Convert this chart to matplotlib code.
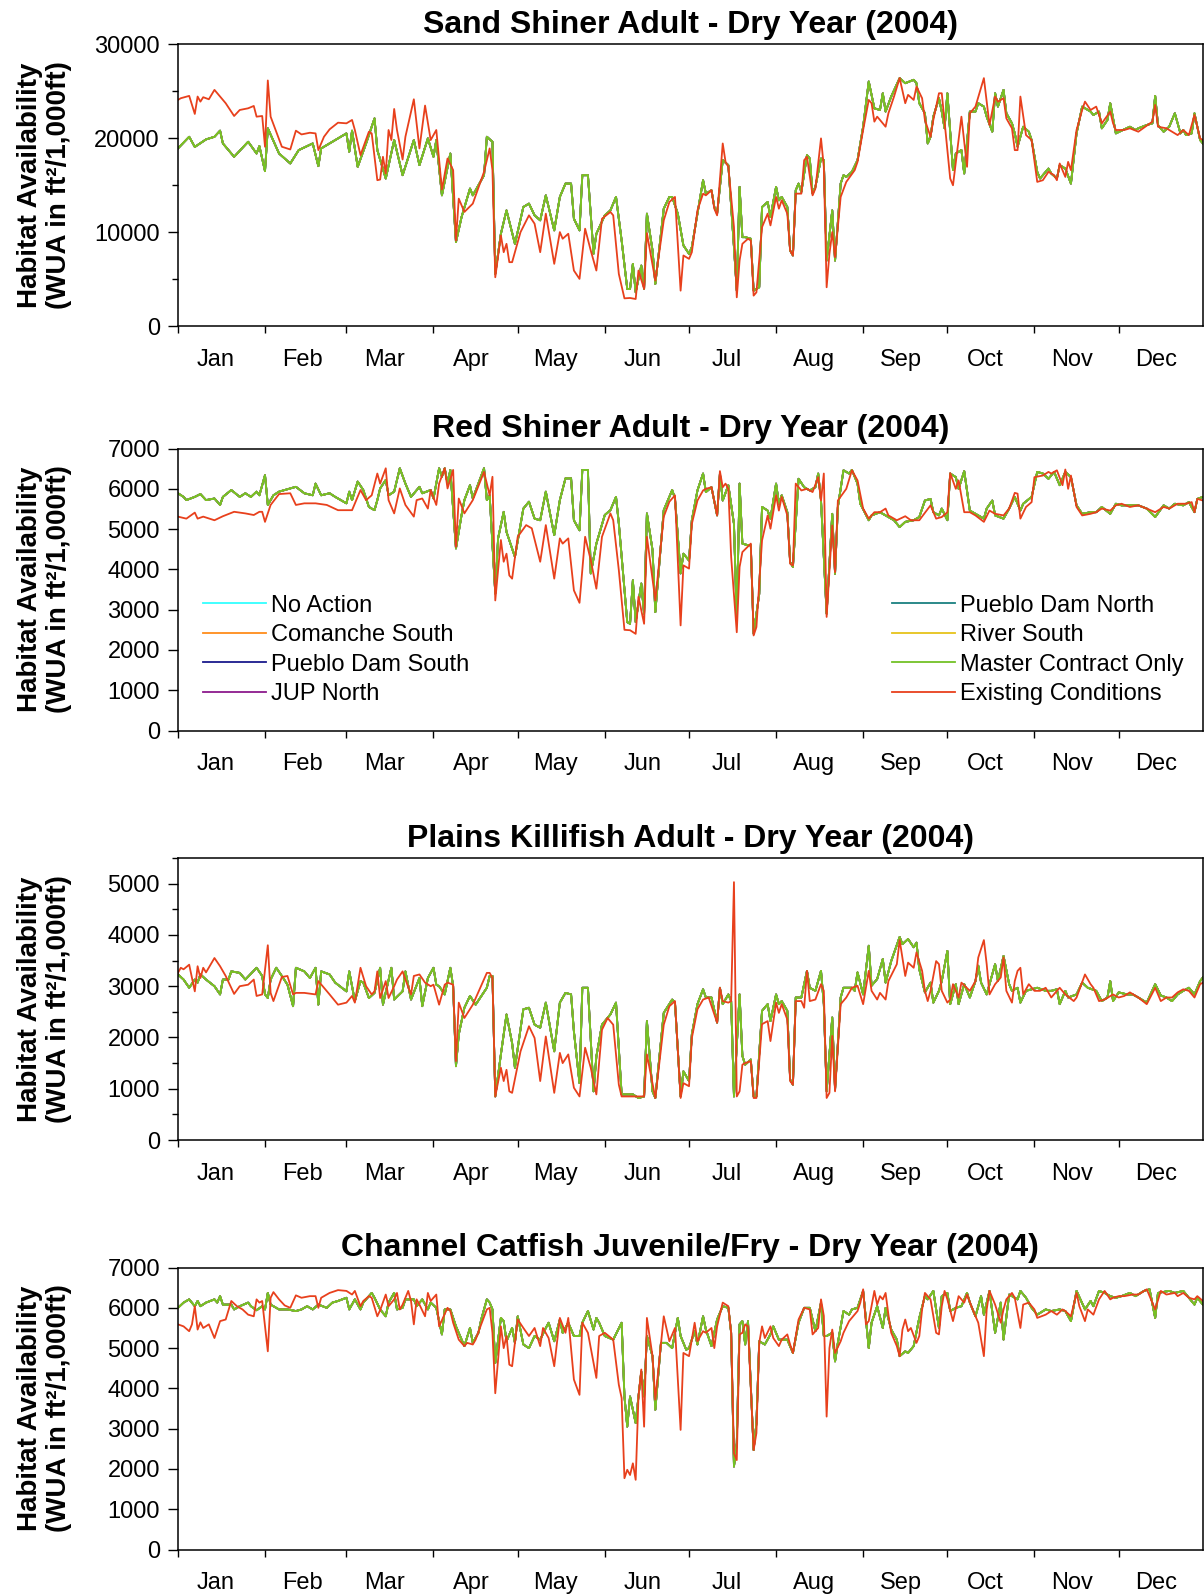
import numpy as np
import matplotlib.pyplot as plt
from matplotlib.ticker import MultipleLocator, FixedLocator, NullFormatter

plt.rcParams['font.family'] = ['Liberation Sans', 'DejaVu Sans']

# month boundaries for 2004 (leap year), day of year starting at 0
months = ['Jan', 'Feb', 'Mar', 'Apr', 'May', 'Jun', 'Jul', 'Aug', 'Sep', 'Oct', 'Nov', 'Dec']
month_start = [0, 31, 60, 91, 121, 152, 182, 213, 244, 274, 305, 335]

alternatives = ['No Action', 'Comanche South', 'Pueblo Dam South', 'JUP North',
                'Pueblo Dam North', 'River South', 'Master Contract Only']
alt_colors = ['#33ffff', '#ff8c1a', '#1a1a8c', '#8c1a8c', '#1a8080', '#e6c31a', '#73c226']
exist_label = 'Existing Conditions'
exist_color = '#e8401c'

# (day, WUA) - project alternatives track almost together
sand_proj = [(0, 18940), (4, 20180), (6, 19100), (10, 19900), (13, 20180), (15, 20830), (16, 19470), (20, 18050),
    (25, 19650), (28, 18400), (29, 19190), (31, 16520), (32, 21080), (36, 18400), (40, 17340), (43, 18760),
    (48, 19470), (50, 17050), (51, 18940), (56, 19830), (60, 20540), (61, 18580), (62, 20830), (64, 16980),
    (67, 19470), (70, 22140), (71, 18760), (74, 15740), (77, 19830), (80, 16090), (84, 19830), (86, 17160),
    (89, 20010), (91, 18050), (92, 19830), (94, 13950), (97, 18400), (99, 8970), (101, 11640), (104, 14670),
    (105, 13950), (109, 16090), (110, 20180), (112, 19650), (113, 5590), (115, 9860), (117, 12350), (120, 8790),
    (123, 12710), (125, 13070), (127, 11820), (129, 11290), (131, 13950), (134, 10220), (136, 13780), (138, 15200),
    (140, 15200), (141, 11460), (143, 10220), (144, 16090), (146, 16090), (148, 7730), (149, 9860), (152, 11820),
    (154, 12350), (156, 13780), (158, 9150), (160, 3990), (161, 3990), (162, 6660), (163, 3630), (165, 6480),
    (166, 3990), (167, 12000), (169, 8080), (170, 4520), (173, 12530), (175, 13780), (176, 13780), (178, 12000),
    (180, 8620), (182, 7730), (183, 8440), (187, 15560), (188, 14130), (190, 14490), (191, 12710), (192, 12000),
    (194, 17690), (196, 17160), (198, 8440), (199, 3810), (200, 14850), (201, 9500), (202, 9500), (204, 9330),
    (205, 3810), (207, 4170), (208, 12710), (210, 13240), (211, 11640), (213, 14850), (214, 13420), (215, 13780),
    (217, 12710), (218, 8080), (219, 7550), (220, 14490), (221, 15200), (222, 14310), (224, 18230), (225, 17870),
    (226, 14130), (227, 14850), (229, 17870), (230, 17690), (231, 7010), (233, 12350), (234, 7010), (236, 15200),
    (237, 16090), (238, 15910), (240, 16450), (242, 17690), (244, 21250), (246, 26060), (248, 23210), (250, 23030),
    (251, 24810), (252, 22860), (254, 24460), (257, 26420), (259, 25880), (262, 26240), (263, 25880), (264, 23750),
    (266, 22680), (267, 19470), (268, 20180), (269, 22320), (271, 24280), (272, 22860), (273, 21080), (274, 24810),
    (276, 16630), (277, 18400), (279, 18760), (280, 16270), (282, 22860), (284, 22860), (285, 23750), (287, 23390),
    (288, 22320), (290, 20720), (291, 24810), (292, 23390), (294, 25170), (295, 22680), (297, 21610), (298, 20540),
    (299, 19120), (301, 21250), (303, 20720), (304, 19830), (306, 16450), (307, 15740), (310, 16800), (311, 16270),
    (313, 15740), (314, 17160), (316, 16800), (318, 15200), (320, 20540), (322, 23390), (325, 22860), (326, 22500),
    (328, 22860), (329, 21080), (331, 21970), (332, 23750), (334, 20540), (336, 20830), (339, 21250), (341, 20900),
    (342, 21080), (345, 21430), (347, 21610), (348, 24530), (349, 21430), (351, 20720), (353, 21250), (355, 22680),
    (357, 20540), (358, 20900), (359, 20360), (361, 20540), (362, 22680), (364, 19830), (365, 19470)]

sand_exist = [(0, 24100), (1, 24280), (4, 24530), (6, 22610), (7, 24460), (8, 23920), (9, 24390), (11, 24170),
    (13, 25170), (15, 24460), (17, 23750), (20, 22390), (22, 23030), (25, 23210), (27, 23460), (28, 22320),
    (30, 22390), (31, 19120), (32, 26170), (33, 22320), (35, 20720), (37, 19120), (40, 18830), (42, 20830),
    (44, 20430), (47, 20610), (49, 20540), (50, 18760), (52, 20180), (54, 20970), (57, 21680), (60, 21610),
    (62, 21970), (63, 20900), (65, 18230), (68, 20720), (69, 20540), (71, 15560), (72, 15630), (73, 18050),
    (74, 16270), (75, 20900), (76, 19830), (77, 23140), (78, 20900), (80, 17760), (81, 20180), (84, 24170),
    (86, 18940), (88, 23500), (90, 19830), (92, 20900), (94, 14560), (96, 17870), (98, 16630), (99, 9150),
    (100, 13600), (102, 12180), (105, 13070), (109, 16450), (111, 18940), (112, 16630), (113, 5230), (115, 9680),
    (116, 7900), (117, 8790), (118, 6840), (119, 6840), (122, 10040), (125, 11820), (127, 10930), (129, 7900),
    (131, 12000), (134, 6660), (136, 10040), (137, 9330), (139, 9860), (141, 5950), (143, 5060), (145, 10400),
    (147, 8080), (149, 5950), (151, 11460), (154, 12180), (155, 11820), (157, 5590), (159, 2990), (161, 3030),
    (163, 2920), (164, 5950), (166, 3990), (167, 9930), (170, 4880), (173, 11290), (175, 13240), (177, 13780),
    (179, 3810), (180, 7550), (182, 7190), (183, 7900), (185, 12350), (187, 14130), (188, 13950), (190, 14490),
    (191, 12530), (192, 11820), (194, 19470), (195, 17510), (196, 16980), (198, 10570), (199, 3100), (200, 7010),
    (201, 8790), (203, 9330), (204, 9150), (205, 3280), (206, 3630), (208, 10570), (210, 12000), (211, 10750),
    (213, 13780), (214, 12530), (215, 13420), (217, 12000), (218, 8080), (219, 7550), (220, 14130), (222, 14130),
    (223, 17690), (224, 18050), (226, 13950), (227, 14670), (229, 20010), (230, 16980), (231, 4170), (232, 7730),
    (233, 10040), (234, 7370), (236, 13780), (238, 15380), (241, 16630), (242, 17510), (244, 20900), (246, 24100),
    (247, 23750), (248, 21790), (249, 22320), (250, 21970), (252, 21250), (253, 22680), (255, 24460), (257, 26420),
    (259, 23750), (260, 24640), (262, 24100), (263, 25520), (265, 24280), (266, 21970), (268, 20180), (269, 21970),
    (271, 24810), (272, 24810), (273, 21790), (275, 15740), (276, 15020), (278, 19830), (279, 22320), (281, 16980),
    (282, 22680), (284, 23390), (287, 26420), (289, 21430), (291, 24460), (292, 23920), (294, 24280), (295, 22140),
    (297, 21080), (298, 18760), (299, 18760), (300, 24460), (302, 20360), (304, 19830), (306, 15380), (308, 15560),
    (310, 16450), (312, 16090), (313, 15560), (314, 17340), (316, 15910), (317, 17510), (318, 16630), (320, 20900),
    (322, 23030), (323, 23920), (325, 23030), (327, 23390), (329, 21610), (332, 22860), (333, 21610), (334, 20900),
    (337, 20900), (339, 21080), (342, 20720), (347, 21790), (348, 23570), (349, 21250), (352, 21080), (356, 20360),
    (358, 20900), (360, 20360), (362, 22500), (364, 20010), (365, 19830)]

red_proj = [(0, 5890), (2, 5800), (3, 5720), (6, 5800), (8, 5870), (10, 5720), (13, 5760), (15, 5600), (16, 5800),
    (19, 5970), (22, 5800), (24, 5890), (26, 5800), (28, 5930), (29, 5840), (31, 6340), (32, 5600), (34, 5840),
    (36, 5930), (39, 5990), (42, 6050), (45, 5890), (48, 5840), (49, 6130), (51, 5840), (54, 5890), (56, 5800),
    (60, 5640), (61, 5930), (62, 5720), (64, 6180), (66, 5970), (68, 5550), (70, 5470), (71, 5720), (72, 6010),
    (74, 6220), (75, 5840), (77, 5930), (79, 6510), (81, 6130), (83, 5800), (86, 6050), (87, 5890), (90, 5970),
    (91, 5760), (93, 6510), (94, 6300), (95, 6510), (96, 6130), (97, 6470), (99, 4520), (101, 5350), (102, 5720),
    (104, 6090), (105, 5760), (109, 6510), (110, 5720), (111, 5840), (113, 3400), (114, 4770), (116, 5430),
    (117, 4930), (120, 4310), (123, 5510), (125, 5680), (127, 5260), (129, 5220), (131, 5930), (134, 4850),
    (136, 5720), (138, 6260), (140, 6260), (141, 5220), (143, 4970), (144, 6470), (146, 6470), (147, 3900),
    (149, 4640), (152, 5350), (154, 5470), (156, 5800), (157, 5140), (160, 2690), (161, 2650), (162, 3730),
    (163, 2690), (165, 3650), (166, 2900), (167, 5390), (169, 4480), (170, 2940), (173, 5470), (176, 5970),
    (177, 5760), (179, 3900), (180, 4390), (182, 4220), (183, 5220), (185, 5960), (187, 6380), (188, 5920),
    (190, 6040), (192, 5340), (193, 6380), (194, 5710), (196, 6090), (198, 5130), (199, 2730), (200, 6130),
    (201, 4640), (203, 4600), (204, 4600), (205, 2400), (207, 3390), (208, 5550), (210, 5460), (211, 5260),
    (213, 6130), (214, 5630), (215, 5840), (217, 5420), (218, 4180), (219, 4060), (221, 6250), (223, 6040),
    (225, 5960), (227, 6040), (228, 6380), (229, 5710), (231, 2900), (233, 5380), (234, 3890), (235, 5550),
    (237, 6460), (239, 6380), (240, 6470), (242, 6130), (243, 5630), (246, 5220), (247, 5340), (250, 5420),
    (252, 5340), (255, 5220), (257, 5050), (259, 5180), (262, 5220), (264, 5300), (266, 5710), (268, 5750),
    (269, 5420), (271, 5340), (272, 5510), (274, 5220), (275, 6380), (277, 6290), (278, 6000), (280, 6440),
    (282, 5460), (284, 5380), (287, 5260), (288, 5510), (290, 5710), (291, 5340), (294, 5260), (296, 5510),
    (298, 5800), (300, 5460), (301, 5630), (304, 5800), (306, 6420), (308, 6380), (310, 6250), (312, 6420),
    (314, 6090), (316, 6420), (318, 6290), (320, 5590), (322, 5380), (325, 5420), (327, 5420), (329, 5550),
    (332, 5380), (334, 5630), (336, 5590), (339, 5590), (342, 5590), (345, 5510), (348, 5300), (351, 5590),
    (353, 5510), (355, 5630), (358, 5590), (360, 5670), (362, 5420), (363, 5750), (365, 5800)]

red_exist = [(0, 5310), (3, 5260), (6, 5410), (7, 5260), (9, 5310), (13, 5220), (16, 5320), (20, 5430), (24, 5390),
    (27, 5350), (29, 5430), (30, 5430), (31, 5180), (33, 5600), (36, 5870), (40, 5890), (42, 5600), (45, 5640),
    (49, 5640), (53, 5600), (57, 5470), (62, 5470), (65, 5970), (67, 5720), (69, 5840), (71, 6380), (72, 6130),
    (74, 6510), (75, 5720), (77, 5390), (79, 6010), (81, 5600), (84, 5310), (85, 5720), (87, 5760), (89, 5510),
    (90, 5970), (92, 5600), (93, 6130), (95, 6510), (96, 6010), (98, 6470), (99, 4560), (100, 5760), (102, 5390),
    (105, 5720), (109, 6420), (111, 5840), (112, 6300), (113, 3230), (115, 4730), (116, 4190), (117, 4390),
    (118, 3850), (119, 3770), (121, 4810), (124, 5100), (126, 5020), (129, 4190), (131, 5100), (134, 3770),
    (136, 4770), (137, 4640), (139, 4770), (141, 3480), (143, 3170), (145, 4810), (147, 4230), (149, 3520),
    (151, 4810), (154, 5390), (155, 5220), (157, 3980), (159, 2500), (161, 2490), (163, 2400), (164, 3320),
    (166, 2650), (167, 4810), (170, 3230), (173, 5310), (175, 5680), (177, 5840), (179, 2610), (180, 4100),
    (182, 4020), (183, 5130), (185, 5710), (187, 5960), (188, 6000), (190, 6040), (192, 5340), (193, 6440),
    (194, 6040), (195, 6130), (196, 6000), (197, 4310), (199, 2440), (200, 4060), (201, 4430), (204, 4640),
    (205, 2360), (206, 2570), (208, 4720), (210, 5340), (211, 5010), (213, 5840), (214, 5460), (215, 5800),
    (217, 5340), (218, 4140), (219, 4100), (220, 6130), (222, 5960), (224, 6000), (226, 5920), (228, 6290),
    (229, 5710), (230, 6380), (231, 2820), (233, 5090), (234, 3930), (235, 5710), (238, 6000), (240, 6460),
    (242, 6210), (244, 5510), (246, 5260), (248, 5420), (250, 5420), (252, 5510), (253, 5340), (256, 5220),
    (259, 5320), (261, 5220), (264, 5220), (268, 5590), (270, 5260), (272, 5300), (274, 5420), (275, 6390),
    (277, 6000), (278, 6210), (280, 5420), (282, 5420), (284, 5340), (287, 5180), (289, 5460), (291, 5380),
    (294, 5340), (296, 5510), (298, 5900), (299, 5880), (300, 5260), (302, 5550), (304, 5670), (305, 6290),
    (308, 6330), (310, 6420), (311, 6380), (313, 6460), (315, 6090), (316, 6480), (317, 6000), (318, 6330),
    (320, 5550), (322, 5340), (325, 5380), (327, 5420), (329, 5510), (332, 5460), (334, 5590), (336, 5630),
    (339, 5550), (342, 5590), (345, 5510), (348, 5420), (351, 5550), (353, 5510), (356, 5630), (359, 5630),
    (361, 5670), (362, 5420), (363, 5750), (365, 5710)]

killi_proj = [(0, 3230), (2, 3130), (4, 2970), (6, 3130), (7, 3070), (8, 3230), (10, 3130), (13, 3000), (15, 2840),
    (16, 3130), (18, 3130), (19, 3290), (22, 3260), (24, 3130), (28, 3360), (30, 3200), (31, 2840), (32, 2770),
    (33, 3130), (35, 3360), (37, 3200), (39, 3030), (41, 2610), (42, 3360), (45, 3290), (47, 3160), (49, 3360),
    (50, 2640), (51, 3290), (54, 3230), (56, 3070), (60, 2900), (61, 3290), (63, 2710), (65, 3100), (66, 3070),
    (68, 2770), (70, 2870), (72, 3360), (73, 2640), (76, 3360), (77, 2740), (80, 2900), (81, 3290), (83, 2740),
    (86, 3160), (87, 2610), (89, 3160), (91, 3360), (92, 3030), (93, 3000), (95, 2840), (97, 3360), (98, 3000),
    (99, 1440), (100, 2060), (102, 2580), (104, 2810), (106, 2640), (110, 2970), (111, 3200), (112, 3200),
    (113, 850), (115, 1670), (117, 2450), (119, 1890), (120, 1410), (123, 2550), (125, 2580), (127, 2250),
    (129, 2190), (131, 2680), (134, 1730), (136, 2680), (138, 2870), (140, 2840), (141, 2120), (143, 1110),
    (144, 2970), (146, 2970), (148, 950), (149, 1630), (151, 2250), (154, 2450), (156, 2680), (158, 890),
    (162, 890), (164, 820), (166, 850), (167, 2320), (169, 950), (170, 820), (173, 2480), (176, 2740),
    (177, 2680), (179, 850), (180, 1340), (182, 1150), (183, 2060), (185, 2650), (187, 2940), (188, 2780),
    (190, 2780), (192, 2290), (193, 2970), (194, 2650), (196, 2840), (197, 2710), (198, 850), (200, 2840),
    (201, 1640), (202, 1470), (204, 1570), (205, 850), (206, 850), (208, 2520), (210, 2650), (211, 2320),
    (213, 2840), (214, 2650), (215, 2710), (217, 2520), (218, 1180), (219, 1080), (220, 2780), (222, 2780),
    (224, 3300), (225, 2970), (227, 2910), (229, 3300), (230, 2650), (231, 950), (233, 2390), (234, 980),
    (236, 2780), (237, 2970), (240, 2970), (241, 2910), (242, 3270), (244, 2840), (246, 3790), (247, 3010),
    (249, 3140), (251, 3530), (252, 3070), (254, 3490), (257, 3960), (258, 3820), (260, 3920), (262, 3760),
    (263, 3850), (264, 3330), (266, 2880), (268, 3070), (269, 2680), (271, 2910), (272, 3100), (274, 3690),
    (275, 2650), (277, 3040), (278, 2650), (280, 3040), (282, 2780), (284, 3100), (285, 3400), (286, 3070),
    (288, 2840), (290, 3230), (291, 3430), (292, 3100), (294, 3590), (296, 3040), (297, 2910), (299, 2970),
    (300, 2680), (302, 2910), (304, 2940), (306, 2970), (309, 2910), (311, 2910), (313, 2940), (314, 2650),
    (316, 2910), (317, 2780), (320, 2840), (322, 3070), (324, 2970), (327, 2910), (329, 2710), (331, 2780),
    (332, 3100), (333, 2710), (335, 2880), (338, 2840), (340, 2840), (342, 2780), (345, 2680), (348, 3040),
    (350, 2820), (352, 2780), (354, 2710), (356, 2840), (358, 2910), (360, 2970), (362, 2840), (364, 3100),
    (365, 3170)]

killi_exist = [(0, 3260), (1, 3360), (2, 3330), (4, 3420), (6, 2900), (7, 3390), (8, 3160), (9, 3360), (10, 3270),
    (13, 3550), (15, 3390), (17, 3200), (20, 2850), (22, 3000), (25, 3030), (27, 3130), (28, 2810), (30, 2840),
    (32, 3800), (33, 2870), (34, 2710), (37, 3180), (39, 3200), (41, 2840), (42, 2870), (45, 2870), (49, 2840),
    (50, 3100), (52, 2970), (54, 2840), (57, 2640), (60, 2680), (62, 2810), (63, 2680), (65, 3360), (67, 3000),
    (69, 2840), (70, 2900), (71, 3290), (72, 2770), (74, 3100), (75, 2770), (77, 3000), (78, 3130), (80, 3290),
    (81, 3130), (83, 2840), (84, 3200), (86, 3230), (88, 3070), (90, 3000), (91, 3030), (93, 2640), (95, 3030),
    (96, 3070), (98, 3030), (99, 1540), (100, 2680), (102, 2380), (105, 2640), (110, 3260), (111, 3260),
    (112, 3160), (113, 850), (115, 1410), (116, 1150), (117, 1370), (118, 950), (119, 920), (122, 1730),
    (125, 2220), (127, 1990), (129, 1150), (131, 2020), (134, 920), (136, 1700), (137, 1500), (139, 1670),
    (141, 1020), (143, 850), (145, 1800), (147, 1410), (149, 890), (151, 2150), (153, 2380), (155, 2250),
    (157, 1080), (158, 850), (162, 850), (166, 850), (167, 1670), (170, 820), (173, 2250), (175, 2610),
    (177, 2710), (179, 820), (180, 1110), (182, 1050), (183, 1990), (185, 2550), (187, 2740), (189, 2780),
    (192, 2290), (193, 2970), (194, 2710), (196, 2680), (197, 2710), (198, 5030), (199, 850), (200, 950),
    (201, 1470), (202, 1500), (204, 1540), (205, 820), (206, 820), (208, 2260), (210, 2320), (211, 1930),
    (213, 2680), (214, 2480), (215, 2650), (217, 2350), (218, 1150), (219, 1080), (220, 2710), (222, 2710),
    (223, 2580), (224, 3300), (225, 2710), (227, 2740), (229, 3040), (230, 2910), (231, 820), (232, 920),
    (233, 2030), (234, 950), (236, 2650), (238, 2780), (240, 2970), (242, 3010), (244, 2650), (246, 3300),
    (247, 2910), (249, 2740), (250, 2870), (252, 2740), (253, 3100), (256, 3430), (257, 3900), (259, 3200),
    (260, 3460), (262, 3360), (263, 3660), (265, 3300), (266, 2910), (267, 2710), (268, 2910), (270, 3490),
    (271, 3430), (272, 2910), (274, 2680), (275, 2740), (276, 3040), (278, 2780), (279, 3070), (282, 2910),
    (284, 3100), (285, 3560), (287, 3900), (288, 3430), (289, 2840), (291, 3040), (293, 3170), (294, 3560),
    (295, 2910), (297, 2680), (298, 3100), (299, 3300), (300, 3360), (301, 2840), (303, 3040), (305, 2910),
    (307, 2910), (309, 2970), (311, 2780), (313, 2910), (314, 2970), (316, 2840), (319, 2710), (320, 2780),
    (323, 3230), (325, 3040), (326, 2970), (328, 2710), (330, 2740), (333, 2840), (335, 2780), (337, 2810),
    (339, 2880), (342, 2780), (345, 2650), (348, 2970), (350, 2710), (352, 2780), (354, 2780), (356, 2880),
    (358, 2940), (360, 2910), (362, 2780), (364, 3040), (365, 3070)]

cat_proj = [(0, 6000), (2, 6130), (4, 6210), (6, 6040), (7, 6170), (8, 6040), (10, 6130), (13, 6210), (14, 6130),
    (15, 6290), (16, 6080), (19, 6080), (20, 5960), (22, 6040), (25, 6130), (26, 6040), (28, 5940), (30, 6040),
    (31, 5960), (32, 6370), (33, 6080), (36, 5960), (39, 5960), (42, 5920), (44, 5960), (46, 6040), (48, 5960),
    (50, 6080), (53, 6000), (55, 6130), (57, 6170), (60, 6250), (61, 5960), (63, 6210), (65, 5960), (66, 6130),
    (69, 6370), (70, 6250), (72, 5960), (74, 5790), (75, 6130), (77, 6370), (78, 5960), (80, 6000), (81, 6210),
    (84, 6210), (85, 6040), (87, 6210), (89, 5960), (90, 6130), (92, 6000), (94, 5340), (95, 5960), (97, 5960),
    (99, 5540), (101, 5210), (102, 5050), (104, 5500), (105, 5130), (107, 5380), (108, 5710), (110, 6210),
    (111, 6130), (112, 5960), (113, 4630), (115, 5750), (116, 5670), (117, 5170), (119, 5500), (120, 5130),
    (121, 5790), (123, 5090), (125, 5000), (127, 5300), (129, 5210), (131, 5500), (132, 5630), (134, 5170),
    (136, 5710), (137, 5380), (139, 5630), (141, 5300), (143, 5300), (144, 5630), (146, 5920), (148, 5460),
    (149, 5750), (150, 5630), (152, 5300), (155, 5210), (158, 5630), (159, 3800), (160, 3050), (161, 3800),
    (163, 3140), (164, 3800), (165, 4420), (166, 3800), (167, 5300), (169, 4800), (170, 3470), (172, 5130),
    (174, 5130), (176, 5000), (178, 5750), (179, 5300), (181, 4960), (182, 5000), (184, 5420), (185, 5090),
    (187, 5790), (188, 5460), (190, 5050), (192, 5710), (194, 6040), (196, 6000), (197, 5380), (198, 2060),
    (199, 2640), (200, 5590), (201, 5670), (202, 5090), (203, 5670), (205, 2470), (206, 3140), (207, 5170),
    (209, 5090), (211, 5340), (212, 5540), (214, 5210), (217, 5210), (219, 4880), (221, 5630), (223, 6000),
    (225, 6000), (227, 5420), (229, 6130), (230, 5300), (231, 5300), (233, 5380), (234, 4670), (235, 5130),
    (237, 5920), (239, 5830), (240, 5960), (242, 6000), (244, 6420), (245, 5710), (246, 5000), (247, 5630),
    (249, 6040), (251, 5500), (252, 6000), (254, 5460), (256, 5210), (257, 4800), (259, 4920), (260, 4880),
    (262, 5050), (264, 5750), (266, 6290), (267, 6210), (269, 6420), (271, 5500), (272, 6290), (274, 6370),
    (275, 5920), (277, 6000), (279, 6040), (281, 6370), (282, 6130), (284, 5790), (286, 6290), (287, 5830),
    (289, 6420), (291, 5380), (293, 6130), (294, 5210), (296, 6330), (297, 6290), (299, 6210), (300, 6420),
    (302, 6250), (304, 6000), (306, 5830), (309, 5960), (311, 5920), (314, 5960), (316, 5920), (318, 5670),
    (320, 6420), (323, 5960), (325, 6170), (326, 6040), (328, 6420), (330, 6370), (332, 6290), (334, 6250),
    (336, 6290), (339, 6370), (341, 6290), (344, 6420), (346, 6460), (348, 5750), (349, 6370), (353, 6420),
    (355, 6370), (358, 6420), (360, 6250), (362, 6080), (363, 6250), (365, 6080)]

cat_exist = [(0, 5590), (2, 5540), (4, 5420), (5, 5590), (6, 6040), (7, 5460), (8, 5640), (9, 5500), (11, 5590),
    (13, 5250), (15, 5670), (17, 5710), (19, 6170), (21, 6040), (23, 5960), (25, 5830), (27, 5790), (28, 6210),
    (29, 6130), (30, 6170), (32, 4920), (33, 6250), (34, 6390), (36, 6210), (38, 6060), (40, 6000), (42, 6310),
    (44, 6250), (47, 6290), (49, 6290), (50, 6000), (51, 6250), (54, 6370), (57, 6440), (60, 6420), (62, 6330),
    (63, 6420), (65, 6040), (66, 6170), (68, 6290), (69, 6250), (71, 5790), (72, 5940), (74, 6330), (75, 6040),
    (77, 6210), (78, 6370), (79, 5960), (80, 6080), (82, 6420), (83, 6170), (84, 5590), (85, 6210), (86, 6080),
    (88, 5790), (89, 6370), (90, 6170), (92, 6330), (93, 5540), (96, 6000), (97, 5920), (98, 5630), (100, 5210),
    (102, 5050), (103, 5130), (105, 5090), (106, 5210), (108, 5590), (110, 5960), (111, 6000), (112, 5380),
    (113, 3880), (115, 5540), (116, 5000), (117, 5300), (118, 4590), (119, 4550), (121, 5710), (123, 5500),
    (125, 5300), (127, 5500), (129, 5050), (130, 5500), (132, 5250), (134, 4550), (136, 5750), (138, 5380),
    (139, 5750), (141, 4220), (143, 3840), (144, 5630), (146, 5380), (149, 4260), (150, 5300), (152, 5380),
    (155, 5210), (157, 4090), (158, 3760), (159, 1770), (160, 1980), (161, 1850), (162, 2140), (163, 1730),
    (164, 3800), (165, 4470), (166, 3050), (167, 5750), (169, 4800), (170, 3720), (173, 5790), (175, 5170),
    (177, 5500), (179, 2970), (180, 4880), (182, 4800), (184, 5630), (185, 5170), (187, 5420), (188, 5380),
    (190, 5500), (191, 5000), (192, 5540), (194, 6130), (196, 6040), (197, 5380), (198, 2390), (199, 2220),
    (200, 5340), (201, 5380), (202, 5590), (203, 5540), (205, 2470), (206, 2890), (207, 5130), (208, 5540),
    (209, 5250), (211, 5540), (212, 5250), (214, 5050), (215, 5210), (217, 5340), (218, 5090), (219, 4880),
    (221, 5710), (223, 6000), (225, 5960), (226, 5340), (228, 5500), (229, 6210), (230, 5800), (231, 3300),
    (232, 5000), (233, 5460), (234, 4880), (236, 5170), (237, 5380), (239, 5670), (242, 5920), (243, 6130),
    (244, 6460), (245, 5590), (246, 5670), (248, 6420), (249, 6080), (250, 6290), (251, 6210), (252, 6370),
    (253, 5830), (254, 5380), (256, 5050), (257, 4800), (258, 5460), (259, 5710), (260, 5420), (261, 5500),
    (263, 5130), (264, 5300), (265, 5960), (266, 6370), (268, 6210), (270, 5380), (271, 5340), (272, 6040),
    (273, 6420), (274, 6210), (276, 5670), (278, 6290), (280, 6130), (281, 6330), (283, 5960), (285, 5630),
    (286, 5210), (287, 4800), (288, 5960), (289, 6420), (291, 6080), (293, 5630), (294, 5960), (295, 6210),
    (297, 6370), (298, 6250), (300, 5500), (301, 6080), (303, 6130), (305, 5960), (306, 5750), (309, 5830),
    (311, 5920), (313, 5830), (315, 5960), (316, 5920), (318, 5790), (320, 6370), (321, 6040), (323, 5670),
    (324, 5960), (326, 5830), (328, 6210), (330, 6420), (332, 6210), (333, 6250), (335, 6290), (337, 6290),
    (340, 6330), (342, 6330), (345, 6460), (348, 5960), (350, 6420), (352, 6330), (355, 6370), (356, 6290),
    (358, 6370), (360, 6250), (362, 6210), (363, 6290), (365, 6170)]

titles = ['Sand Shiner Adult - Dry Year (2004)', 'Red Shiner Adult - Dry Year (2004)',
          'Plains Killifish Adult - Dry Year (2004)', 'Channel Catfish Juvenile/Fry - Dry Year (2004)']
proj_data = [sand_proj, red_proj, killi_proj, cat_proj]
exist_data = [sand_exist, red_exist, killi_exist, cat_exist]
ymax = [30000, 7000, 5500, 7000]
ystep = [10000, 1000, 1000, 1000]
yminor = [5000, None, 500, None]

fig = plt.figure(figsize=(12.04, 15.94), dpi=100)
bottoms = [0.7952, 0.5417, 0.2848, 0.0279]

for i in range(4):
    ax = fig.add_axes([0.1478, bottoms[i], 0.8513, 0.1769])
    pd_ = np.array(proj_data[i])
    ex = np.array(exist_data[i])
    # all project alternatives, master contract drawn last so it sits on top
    for name, col in zip(alternatives, alt_colors):
        ax.plot(pd_[:, 0], pd_[:, 1], color=col, lw=1.3, label=name)
    ax.plot(ex[:, 0], ex[:, 1], color=exist_color, lw=1.3, label=exist_label)

    ax.set_xlim(0, 365)
    ax.set_ylim(0, ymax[i])
    ax.yaxis.set_major_locator(MultipleLocator(ystep[i]))
    if yminor[i]:
        ax.yaxis.set_minor_locator(MultipleLocator(yminor[i]))
    ax.tick_params(axis='y', which='major', direction='out', length=7, width=1, labelsize=17, pad=6)
    ax.tick_params(axis='y', which='minor', direction='out', length=4.3, width=1)

    # month boundaries as ticks, names as unticked minor labels
    ax.xaxis.set_major_locator(FixedLocator(month_start))
    ax.xaxis.set_major_formatter(NullFormatter())
    ax.xaxis.set_minor_locator(FixedLocator([m + 13.5 for m in month_start]))
    ax.set_xticklabels(months, minor=True)
    ax.tick_params(axis='x', which='major', direction='out', length=5, width=1)
    ax.tick_params(axis='x', which='minor', length=0, labelsize=17, pad=16.5)

    for s in ax.spines.values():
        s.set_linewidth(1.1)

    ax.set_title(titles[i], fontsize=23, fontweight='bold', pad=8)
    ax.text(-0.130, 0.5, 'Habitat Availability\n(WUA in ft\u00b2/1,000ft)', transform=ax.transAxes,
            rotation=90, ha='center', va='center', multialignment='center',
            fontsize=20, fontweight='bold', linespacing=1.15)

    if i == 1:
        h, l = ax.get_legend_handles_labels()
        leg1 = ax.legend(h[:4], l[:4], loc='upper left', bbox_to_anchor=(0.0244, 0.482), frameon=False,
                         fontsize=17, handlelength=2.65, handletextpad=0.22, labelspacing=0.32, borderpad=0,
                         borderaxespad=0)
        ax.add_artist(leg1)
        ax.legend(h[4:], l[4:], loc='upper left', bbox_to_anchor=(0.6966, 0.482), frameon=False,
                  fontsize=17, handlelength=2.65, handletextpad=0.22, labelspacing=0.32, borderpad=0,
                  borderaxespad=0)

fig.savefig('out.png', dpi=100)
